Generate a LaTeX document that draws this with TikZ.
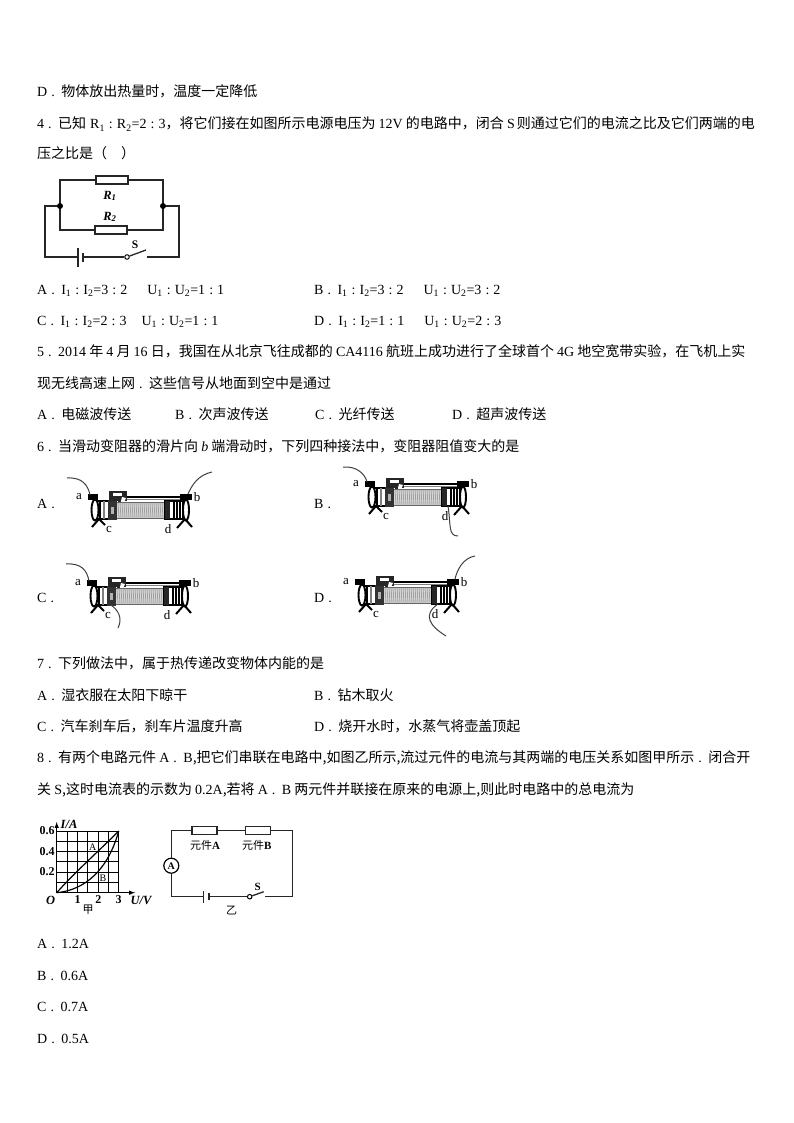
\documentclass[tikz,border=0pt]{standalone}
\usepackage{fontspec}
\setmainfont{Liberation Serif}
\newfontfamily\cjk{Noto Sans CJK SC}
\newcommand\lat[1]{{\rmfamily #1}}
\newcommand\sub[2]{\lat{#1\textsubscript{#2}}}
\newcommand\bi{\makebox[12pt]{\lat{:}}}
\newcommand\dotp{\makebox[14pt][l]{\lat{\hspace{4pt}.}}}
\tikzset{rheostat/.pic={
  % coil
  \fill[gray!30] (22,-8) rectangle (71,8);
  \foreach \cx in {23,25,...,69} {\draw[gray!75,line width=.8pt] (\cx,-8) -- (\cx+1,8);}
  \draw[gray!80!black] (22,-8) -- (71,-8) (22,8) -- (71,8);
  % left drum
  \draw[line width=1.3pt,fill=white] (0,-9) rectangle (14,9);
  \draw[line width=1.6pt] (5,-9) -- (5,9);
  \draw[gray,line width=1.2pt] (9,-9) -- (9,9);
  \fill[black!80] (13,-10) rectangle (22,10);
  \fill[gray!60] (16,-3) rectangle (19,4);
  % right drum
  \draw[line width=1.3pt,fill=white] (70,-9) rectangle (88,9);
  \fill[black!85] (70,-9) rectangle (75,9);
  \foreach \cx in {79,82,85} {\draw[line width=1.1pt] (\cx,-9) -- (\cx,9);}
  % end plates
  \draw[line width=1.9pt,fill=white] (0,0) ellipse (3.5 and 10.5);
  \draw[line width=1.9pt,fill=white] (91,0) ellipse (3 and 10.5);
  % rod and slider
  \draw[line width=1.4pt] (31,-13) -- (92,-13);
  \draw[gray,line width=.6pt] (31,-10.5) -- (88,-10.5);
  \fill[black!85] (14,-19) rectangle (32,-9);
  \fill[white] (18,-17) rectangle (27,-14.5);
  \fill[white] (27,-13) -- (31,-12) -- (29,-8) -- (26,-9) -- cycle;
  \fill[black!85] (23,-12) rectangle (26,-8);
  % terminals
  \fill (-7,-16.5) rectangle (3,-10.5);
  \fill (85,-16.5) rectangle (97,-10.5);
  % feet
  \draw[line width=2pt] (4,9) -- (-3,17) (4,9) -- (10,15);
  \draw[line width=2pt] (90,9) -- (82,18) (90,9) -- (97,17);
  \coordinate (-a) at (-5,-15);
  \coordinate (-b) at (93,-16);
  \coordinate (-c) at (17,9);
  \coordinate (-d) at (76,9);
  \node[rlabel] (-la) at (-16,-13) {a};
  \node[rlabel] (-lb) at (102,-13) {b};
  \node[rlabel] (-lc) at (14,19) {c};
  \node[rlabel] (-ld) at (73,19) {d};
}}
\begin{document}
\begin{tikzpicture}[x=1pt,y=-1pt]
\tikzstyle{qline}=[anchor=base west,inner sep=0pt,font=\fontsize{14}{14}\selectfont\cjk]
\tikzstyle{rlabel}=[inner sep=0pt,font=\fontsize{13}{13}\selectfont]
\tikzstyle{wire}=[line width=1.3pt,black!85]
\tikzstyle{lead}=[line width=1pt,black!75]
\tikzstyle{resbox}=[draw=black!85,line width=1.2pt,fill=white,inner sep=0pt,minimum width=32pt,minimum height=8pt]
\tikzstyle{resboxs}=[resbox,minimum width=25pt]
\tikzstyle{dotn}=[circle,fill=black,inner sep=0pt,minimum size=6pt]
\tikzstyle{swn}=[circle,draw,line width=1pt,fill=white,inner sep=0pt,minimum size=4.5pt]
\tikzstyle{clabel}=[inner sep=0pt,font=\fontsize{12.5}{12.5}\selectfont\bfseries\itshape]
\tikzstyle{glabel}=[inner sep=0pt,font=\fontsize{12}{12}\selectfont\bfseries]
\tikzstyle{clabelz}=[inner sep=0pt,font=\fontsize{11}{11}\selectfont\cjk]
\useasboundingbox (0,0) rectangle (794,1123);
\fill[white] (0,0) rectangle (794,1123);

% text of the page
\node[qline] (d3) at (37,97) {\lat{D}\dotp 物体放出热量时，温度一定降低};
\node[qline] (q4a) at (37,129) {\lat{4}\dotp 已知\hspace{4pt}\sub{R}{1}\bi\sub{R}{2}\lat{=2}\bi\lat{3}，将它们接在如图所示电源电压为 \lat{12V} 的电路中，闭合 \lat{S}\hspace{2pt}则通过它们的电流之比及它们两端的电};
\node[qline] (q4b) at (37,159) {压之比是（\hspace{14pt}）};
\node[qline] (o4a) at (37,294) {\lat{A}\dotp\sub{I}{1}\bi\sub{I}{2}\lat{=3}\bi\lat{2}\hspace{20pt}\sub{U}{1}\bi\sub{U}{2}\lat{=1}\bi\lat{1}};
\node[qline] (o4b) at (314,294) {\lat{B}\dotp\sub{I}{1}\bi\sub{I}{2}\lat{=3}\bi\lat{2}\hspace{20pt}\sub{U}{1}\bi\sub{U}{2}\lat{=3}\bi\lat{2}};
\node[qline] (o4c) at (37,325) {\lat{C}\dotp\sub{I}{1}\bi\sub{I}{2}\lat{=2}\bi\lat{3}\hspace{15pt}\sub{U}{1}\bi\sub{U}{2}\lat{=1}\bi\lat{1}};
\node[qline] (o4d) at (314,325) {\lat{D}\dotp\sub{I}{1}\bi\sub{I}{2}\lat{=1}\bi\lat{1}\hspace{20pt}\sub{U}{1}\bi\sub{U}{2}\lat{=2}\bi\lat{3}};
\node[qline] (q5a) at (37,356) {\lat{5}\dotp\lat{2014} 年 \lat{4} 月 \lat{16} 日，我国在从北京飞往成都的 \lat{CA4116} 航班上成功进行了全球首个 \lat{4G} 地空宽带实验，在飞机上实};
\node[qline] (q5b) at (37,388) {现无线高速上网\dotp 这些信号从地面到空中是通过};
\node[qline] (o5a) at (37,419) {\lat{A}\dotp 电磁波传送};
\node[qline] (o5b) at (175,419) {\lat{B}\dotp 次声波传送};
\node[qline] (o5c) at (315,419) {\lat{C}\dotp 光纤传送};
\node[qline] (o5d) at (452,419) {\lat{D}\dotp 超声波传送};
\node[qline] (q6) at (37,451) {\lat{6}\dotp 当滑动变阻器的滑片向 \lat{\itshape b} 端滑动时，下列四种接法中，变阻器阻值变大的是};
\node[qline] (o6a) at (37,508) {\lat{A}\dotp};
\node[qline] (o6b) at (314,508) {\lat{B}\dotp};
\node[qline] (o6c) at (37,602) {\lat{C}\dotp};
\node[qline] (o6d) at (314,602) {\lat{D}\dotp};
\node[qline] (q7) at (37,668) {\lat{7}\dotp 下列做法中，属于热传递改变物体内能的是};
\node[qline] (o7a) at (37,700) {\lat{A}\dotp 湿衣服在太阳下晾干};
\node[qline] (o7b) at (314,700) {\lat{B}\dotp 钻木取火};
\node[qline] (o7c) at (37,731) {\lat{C}\dotp 汽车刹车后，刹车片温度升高};
\node[qline] (o7d) at (314,731) {\lat{D}\dotp 烧开水时，水蒸气将壶盖顶起};
\node[qline] (q8a) at (37,762) {\lat{8}\dotp 有两个电路元件 \lat{A}\dotp\lat{B},把它们串联在电路中,如图乙所示,流过元件的电流与其两端的电压关系如图甲所示\dotp 闭合开};
\node[qline] (q8b) at (37,794) {关 \lat{S},这时电流表的示数为 \lat{0.2A},若将 \lat{A}\dotp\lat{B} 两元件并联接在原来的电源上,则此时电路中的总电流为};
\node[qline] (o8a) at (37,948) {\lat{A}\dotp\lat{1.2A}};
\node[qline] (o8b) at (37,980) {\lat{B}\dotp\lat{0.6A}};
\node[qline] (o8c) at (37,1011) {\lat{C}\dotp\lat{0.7A}};
\node[qline] (o8d) at (37,1043) {\lat{D}\dotp\lat{0.5A}};

% circuit of question 4
\node[resbox] (r1) at (112,180) {};
\node[resbox] (r2) at (111,230) {};
\coordinate (jl) at (60,206);
\coordinate (jr) at (163,206);
\node[swn] (sw4) at (127,257) {};
\coordinate (ct4) at (147,257);
\coordinate (bl4) at (78,257);
\coordinate (bs4) at (83,257);
\draw[wire] (jl) |- (r1) (r1) -| (jr);
\draw[wire] (jl) |- (r2) (r2) -| (jr);
\draw[wire] (jl) -| (45,257) -- (bl4);
\draw[wire] (jr) -| (179,257) -- (ct4);
\draw[wire] (bs4) -- (sw4);
\draw[wire] (sw4) -- +(19,-7);
\draw[wire] (78,248) -- (78,267);
\draw[wire] (83,253) -- (83,262);
\node[dotn] (jln) at (jl) {};
\node[dotn] (jrn) at (jr) {};
\node[clabel] (lr1) at (110,196) {R\textsubscript{1}};
\node[clabel] (lr2) at (110,217) {R\textsubscript{2}};
\node[inner sep=0pt,font=\fontsize{11.5}{11.5}\selectfont\bfseries] (ls4) at (135,245) {S};

% rheostats of question 6
\pic (ra) at (95,510) {rheostat};
\pic (rb) at (372,497) {rheostat};
\pic (rc) at (94,596) {rheostat};
\pic (rd) at (362,595) {rheostat};
\coordinate (wa1) at (67,478);
\coordinate (wa2) at (212,472);
\coordinate (wb1) at (343,467);
\coordinate (wb2) at (458,536);
\coordinate (wc1) at (66,564);
\coordinate (wc2) at (118,628);
\coordinate (wd1) at (475,556);
\coordinate (wd2) at (446,636);
\draw[lead] (wa1) .. controls (82,477) and (88,485) .. (ra-a);
\draw[lead] (wa2) .. controls (198,475) and (192,485) .. (ra-b);
\draw[lead] (wb1) .. controls (357,466) and (365,474) .. (rb-a);
\draw[lead] (wb2) .. controls (448,536) and (451,525) .. (rb-d);
\draw[lead] (wc1) .. controls (81,563) and (87,570) .. (rc-a);
\draw[lead] (wc2) .. controls (123,618) and (118,610) .. (rc-c);
\draw[lead] (wd1) .. controls (463,558) and (457,570) .. (rd-b);
\draw[lead] (wd2) .. controls (430,626) and (422,615) .. (rd-d);

% graph of question 8
\foreach \gx in {0,1,...,6} {\draw[line width=.8pt] (56.7+\gx*10.33,831) -- (56.7+\gx*10.33,892.7);}
\foreach \gy in {0,1,...,6} {\draw[line width=.8pt] (56.7,831+\gy*10.28) -- (118.7,831+\gy*10.28);}
\coordinate (og) at (56.7,892.7);
\coordinate (gx) at (135,892.7);
\coordinate (gy) at (56.7,822);
\coordinate (gt) at (118.7,831);
\draw[-latex,line width=1pt] (og) -- (gx);
\draw[-latex,line width=1pt] (og) -- (gy);
\draw[line width=1.2pt] (og) .. controls (75,872) and (100,850) .. (gt);
\draw[line width=1.2pt] (og) .. controls (85,890) and (108,870) .. (gt);
\node[glabel] (l06) at (47,831) {0.6};
\node[glabel] (l04) at (47,852) {0.4};
\node[glabel] (l02) at (47,872) {0.2};
\node[glabel] (lx1) at (77.7,900) {1};
\node[glabel] (lx2) at (98.3,900) {2};
\node[glabel] (lx3) at (118.7,900) {3};
\node[clabel] (lo) at (50.7,900) {O};
\node[clabel] (lu) at (141,900) {U/V};
\node[clabel] (li) at (69,824) {I/A};
\node[inner sep=0pt,fill=white,font=\fontsize{10}{10}\selectfont] (lca) at (92.7,847) {A};
\node[inner sep=0pt,fill=white,font=\fontsize{10}{10}\selectfont] (lcb) at (103,878) {B};
\node[clabelz] (lj) at (88,910) {甲};

% circuit of question 8
\node[resboxs] (ra8) at (204.5,830.7) {};
\node[resboxs] (rb8) at (257.7,830.7) {};
\node[circle,draw,line width=1.2pt,fill=white,inner sep=0pt,minimum size=15pt,font=\fontsize{10}{10}\selectfont\bfseries] (am) at (171.3,865.7) {A};
\node[swn] (sw8) at (249.7,896.7) {};
\coordinate (ct8) at (265,896.7);
\coordinate (bl8) at (203.3,896.7);
\coordinate (bs8) at (209,896.7);
\draw[wire] (am) |- (ra8);
\draw[wire] (ra8) -- (rb8);
\draw[wire] (rb8) -| (292.3,896.7) -- (ct8);
\draw[wire] (am) |- (bl8);
\draw[wire] (bs8) -- (sw8);
\draw[wire] (sw8) -- +(14,-5);
\draw[wire] (203.3,891) -- (203.3,903);
\draw[wire] (209,893) -- (209,900);
\node[clabelz] (la8) at (205,845) {元件\lat{\bfseries A}};
\node[clabelz] (lb8) at (256.7,845) {元件\lat{\bfseries B}};
\node[inner sep=0pt,font=\fontsize{11}{11}\selectfont\bfseries] (ls8) at (257.7,886.7) {S};
\node[clabelz] (ly) at (231.7,910.7) {乙};
\end{tikzpicture}
\end{document}
